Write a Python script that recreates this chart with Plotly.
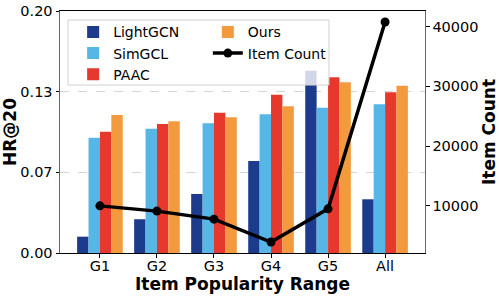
import plotly.graph_objects as go

categories = ["G1", "G2", "G3", "G4", "G5", "All"]
lightgcn = [0.0135, 0.0279, 0.0488, 0.0760, 0.1507, 0.0444]
simgcl = [0.0953, 0.1027, 0.1072, 0.1146, 0.1201, 0.1229]
paac = [0.1003, 0.1066, 0.1160, 0.1308, 0.1452, 0.1328]
ours = [0.1140, 0.1088, 0.1121, 0.1212, 0.1411, 0.1383]
item_count = [10000, 9120, 7780, 3950, 9500, 40780]

hr_ticks = [0.0, 0.2 / 3, 0.4 / 3, 0.2]
hr_tick_text = ["0.00", "0.07", "0.13", "0.20"]
count_ticks = [10000, 20000, 30000, 40000]
count_tick_text = ["10000", "20000", "30000", "40000"]

FONT = "DejaVu Sans"
colors = {"LightGCN": "#1c3b8c", "SimGCL": "#56b6e6", "PAAC": "#e6382c", "Ours": "#f29a3d"}
series = [("LightGCN", lightgcn), ("SimGCL", simgcl), ("PAAC", paac), ("Ours", ours)]
offsets = [-0.4, -0.2, 0.0, 0.2]

fig = go.Figure()
for (name, vals), off in zip(series, offsets):
    fig.add_trace(go.Bar(
        x=categories, y=vals, name=name, width=0.2, offset=off,
        marker=dict(color=colors[name], line=dict(width=0)),
        legend="legend" if name != "Ours" else "legend2",
    ))

fig.add_trace(go.Scatter(
    x=categories, y=item_count, name="Item Count", yaxis="y2",
    mode="lines+markers", line=dict(color="black", width=3.5),
    marker=dict(color="black", size=9), legend="legend2",
))

fig.update_layout(
    width=499, height=297,
    margin=dict(l=60, r=74, t=11, b=44, autoexpand=False),
    barmode="overlay",
    plot_bgcolor="white", paper_bgcolor="white",
    font=dict(family=FONT, size=14.5, color="black"),
    showlegend=True,
    legend=dict(x=0.036, y=0.978, xanchor="left", yanchor="top",
                bgcolor="rgba(0,0,0,0)", font=dict(size=14, family=FONT),
                itemwidth=30, tracegroupgap=0),
    legend2=dict(x=0.405, y=0.978, xanchor="left", yanchor="top",
                 bgcolor="rgba(0,0,0,0)", font=dict(size=14, family=FONT),
                 itemwidth=30, tracegroupgap=0),
    xaxis=dict(
        type="category", range=[-0.7, 5.7], automargin=False,
        showline=True, linecolor="black", linewidth=1, mirror=True,
        ticks="outside", ticklen=3.5, tickcolor="black", ticklabelstandoff=-4,
        showgrid=False,
        title=dict(text="<b>Item Popularity Range</b>", font=dict(size=17, family=FONT), standoff=0),
        tickfont=dict(size=14.5),
    ),
    yaxis=dict(
        range=[0, 0.2], tickvals=hr_ticks, ticktext=hr_tick_text, automargin=False,
        showline=True, linecolor="#666", linewidth=1, mirror=True,
        ticks="outside", ticklen=3.5, tickcolor="black",
        showgrid=True, gridcolor="#d6d6d6", gridwidth=0.8, griddash="dash",
        zeroline=False,
        title=dict(text="<b>HR@20</b>", font=dict(size=17, family=FONT), standoff=6),
        tickfont=dict(size=14.5),
    ),
    yaxis2=dict(
        overlaying="y", side="right", range=[2110, 42620], automargin=False,
        tickvals=count_ticks, ticktext=count_tick_text,
        showline=False, showgrid=False, zeroline=False,
        ticks="outside", ticklen=3.5, tickcolor="black",
        title=dict(text="<b>Item Count</b>", font=dict(size=17, family=FONT), standoff=4),
        tickfont=dict(size=14.5),
    ),
    shapes=[dict(
        type="rect", xref="paper", yref="paper",
        x0=0.022, x1=0.737, y0=0.694, y1=0.963,
        line=dict(color="#d0d0d0", width=1),
        fillcolor="rgba(255,255,255,0.8)", layer="above",
    )],
)

fig.write_html("out.html", config={"displayModeBar": False},
               post_script="document.body.style.margin='0';document.body.style.padding='0';")
